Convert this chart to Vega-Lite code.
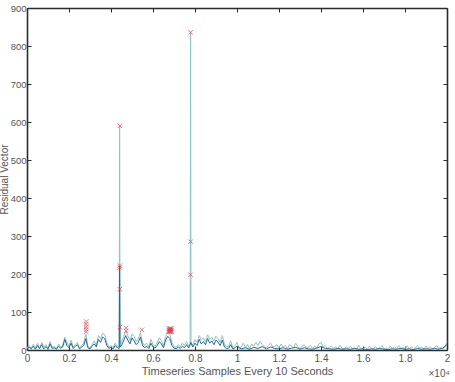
{
  "$schema": "https://vega.github.io/schema/vega-lite/v6.json",
  "width": 420,
  "height": 342,
  "autosize": "none",
  "padding": {"left": 27, "top": 8, "right": 8, "bottom": 32},
  "background": "white",
  "config": {
    "view": {"stroke": null},
    "font": "Liberation Sans",
    "axis": {"grid": false, "domainColor": "#2b2b2b", "domainWidth": 1.6, "tickColor": "#2b2b2b", "tickSize": -4, "labelColor": "#555555", "labelFontSize": 10, "labelFont": "Liberation Sans", "titleFont": "Liberation Sans", "titleFontWeight": "normal", "titleColor": "#555555", "titleFontSize": 11}
  },
  "title": {"text": "×10⁴", "orient": "bottom", "anchor": "end", "fontSize": 10, "fontWeight": "normal", "color": "#555555", "font": "Liberation Sans", "offset": -7},
  "datasets": {
    "light": [
      {"x":0,"y":5},{"x":100,"y":12},{"x":200,"y":4},{"x":300,"y":15},{"x":400,"y":6},{"x":500,"y":18},{"x":600,"y":3},{"x":700,"y":20},{"x":800,"y":8},{"x":900,"y":14},
      {"x":1000,"y":5},{"x":1100,"y":22},{"x":1200,"y":6},{"x":1300,"y":10},{"x":1400,"y":4},{"x":1500,"y":16},{"x":1600,"y":8},{"x":1700,"y":12},{"x":1800,"y":34},{"x":1900,"y":20},
      {"x":2000,"y":10},{"x":2100,"y":26},{"x":2200,"y":8},{"x":2300,"y":14},{"x":2400,"y":20},{"x":2500,"y":6},{"x":2600,"y":12},{"x":2700,"y":18},{"x":2800,"y":42},{"x":2900,"y":10},
      {"x":3000,"y":5},{"x":3100,"y":14},{"x":3200,"y":24},{"x":3300,"y":12},{"x":3400,"y":38},{"x":3500,"y":30},{"x":3600,"y":44},{"x":3700,"y":40},{"x":3800,"y":20},{"x":3900,"y":8},
      {"x":4000,"y":12},{"x":4100,"y":6},{"x":4200,"y":18},{"x":4300,"y":10},{"x":4390,"y":8},{"x":4410,"y":590},{"x":4430,"y":15},{"x":4500,"y":20},{"x":4600,"y":35},{"x":4700,"y":50},{"x":4800,"y":38},{"x":4900,"y":25},
      {"x":5000,"y":42},{"x":5100,"y":36},{"x":5200,"y":22},{"x":5300,"y":30},{"x":5400,"y":46},{"x":5500,"y":20},{"x":5600,"y":12},{"x":5700,"y":18},{"x":5800,"y":8},{"x":5900,"y":28},
      {"x":6000,"y":14},{"x":6100,"y":10},{"x":6200,"y":20},{"x":6300,"y":32},{"x":6400,"y":24},{"x":6500,"y":12},{"x":6600,"y":36},{"x":6700,"y":48},{"x":6800,"y":42},{"x":6900,"y":20},
      {"x":7000,"y":10},{"x":7100,"y":6},{"x":7200,"y":14},{"x":7300,"y":8},{"x":7400,"y":18},{"x":7500,"y":12},{"x":7600,"y":22},{"x":7700,"y":10},{"x":7770,"y":12},{"x":7790,"y":837},{"x":7810,"y":14},{"x":7900,"y":14},
      {"x":8000,"y":28},{"x":8100,"y":20},{"x":8200,"y":38},{"x":8300,"y":26},{"x":8400,"y":32},{"x":8500,"y":22},{"x":8600,"y":40},{"x":8700,"y":28},{"x":8800,"y":34},{"x":8900,"y":24},
      {"x":9000,"y":36},{"x":9100,"y":30},{"x":9200,"y":20},{"x":9300,"y":38},{"x":9400,"y":16},{"x":9500,"y":8},{"x":9600,"y":10},{"x":9700,"y":24},{"x":9800,"y":6},{"x":9900,"y":12},
      {"x":10000,"y":20},{"x":10100,"y":4},{"x":10200,"y":8},{"x":10300,"y":18},{"x":10400,"y":6},{"x":10500,"y":14},{"x":10600,"y":4},{"x":10700,"y":16},{"x":10800,"y":10},{"x":10900,"y":20},
      {"x":11000,"y":12},{"x":11100,"y":22},{"x":11200,"y":14},{"x":11300,"y":8},{"x":11400,"y":6},{"x":11500,"y":12},{"x":11600,"y":18},{"x":11700,"y":8},{"x":11800,"y":10},{"x":11900,"y":14},
      {"x":12000,"y":6},{"x":12100,"y":16},{"x":12200,"y":8},{"x":12300,"y":12},{"x":12400,"y":4},{"x":12500,"y":14},{"x":12600,"y":10},{"x":12700,"y":6},{"x":12800,"y":18},{"x":12900,"y":8},
      {"x":13000,"y":4},{"x":13100,"y":10},{"x":13200,"y":14},{"x":13300,"y":6},{"x":13400,"y":8},{"x":13500,"y":12},{"x":13600,"y":4},{"x":13700,"y":10},{"x":13800,"y":6},{"x":13900,"y":16},
      {"x":14000,"y":20},{"x":14100,"y":8},{"x":14200,"y":12},{"x":14300,"y":4},{"x":14400,"y":6},{"x":14500,"y":10},{"x":14600,"y":4},{"x":14700,"y":8},{"x":14800,"y":3},{"x":14900,"y":12},
      {"x":15000,"y":5},{"x":15100,"y":2},{"x":15200,"y":8},{"x":15300,"y":4},{"x":15400,"y":10},{"x":15500,"y":3},{"x":15600,"y":6},{"x":15700,"y":2},{"x":15800,"y":12},{"x":15900,"y":4},
      {"x":16000,"y":3},{"x":16100,"y":8},{"x":16200,"y":2},{"x":16300,"y":10},{"x":16400,"y":4},{"x":16500,"y":3},{"x":16600,"y":9},{"x":16700,"y":2},{"x":16800,"y":6},{"x":16900,"y":12},
      {"x":17000,"y":3},{"x":17100,"y":5},{"x":17200,"y":2},{"x":17300,"y":10},{"x":17400,"y":4},{"x":17500,"y":8},{"x":17600,"y":3},{"x":17700,"y":12},{"x":17800,"y":4},{"x":17900,"y":6},
      {"x":18000,"y":3},{"x":18100,"y":11},{"x":18200,"y":4},{"x":18300,"y":8},{"x":18400,"y":3},{"x":18500,"y":6},{"x":18600,"y":12},{"x":18700,"y":4},{"x":18800,"y":7},{"x":18900,"y":3},
      {"x":19000,"y":10},{"x":19100,"y":4},{"x":19200,"y":9},{"x":19300,"y":3},{"x":19400,"y":6},{"x":19500,"y":12},{"x":19600,"y":4},{"x":19700,"y":7},{"x":19800,"y":3},{"x":19900,"y":8},{"x":20000,"y":22}
    ],
    "dark": [
      {"x":0,"y":2},{"x":100,"y":8},{"x":200,"y":3},{"x":300,"y":10},{"x":400,"y":2},{"x":500,"y":12},{"x":600,"y":4},{"x":700,"y":14},{"x":800,"y":3},{"x":900,"y":9},
      {"x":1000,"y":2},{"x":1100,"y":16},{"x":1200,"y":4},{"x":1300,"y":6},{"x":1400,"y":2},{"x":1500,"y":10},{"x":1600,"y":5},{"x":1700,"y":8},{"x":1800,"y":28},{"x":1900,"y":12},
      {"x":2000,"y":6},{"x":2100,"y":18},{"x":2200,"y":4},{"x":2300,"y":10},{"x":2400,"y":14},{"x":2500,"y":3},{"x":2600,"y":8},{"x":2700,"y":12},{"x":2800,"y":30},{"x":2900,"y":6},
      {"x":3000,"y":3},{"x":3100,"y":10},{"x":3200,"y":16},{"x":3300,"y":8},{"x":3400,"y":28},{"x":3500,"y":20},{"x":3600,"y":34},{"x":3700,"y":30},{"x":3800,"y":12},{"x":3900,"y":4},
      {"x":4000,"y":8},{"x":4100,"y":3},{"x":4200,"y":12},{"x":4300,"y":6},{"x":4390,"y":4},{"x":4410,"y":220},{"x":4430,"y":8},{"x":4500,"y":12},{"x":4600,"y":24},{"x":4700,"y":38},{"x":4800,"y":26},{"x":4900,"y":16},
      {"x":5000,"y":32},{"x":5100,"y":24},{"x":5200,"y":14},{"x":5300,"y":20},{"x":5400,"y":34},{"x":5500,"y":12},{"x":5600,"y":6},{"x":5700,"y":10},{"x":5800,"y":4},{"x":5900,"y":18},
      {"x":6000,"y":8},{"x":6100,"y":5},{"x":6200,"y":12},{"x":6300,"y":22},{"x":6400,"y":16},{"x":6500,"y":6},{"x":6600,"y":26},{"x":6700,"y":36},{"x":6800,"y":30},{"x":6900,"y":12},
      {"x":7000,"y":5},{"x":7100,"y":3},{"x":7200,"y":8},{"x":7300,"y":4},{"x":7400,"y":10},{"x":7500,"y":6},{"x":7600,"y":14},{"x":7700,"y":5},{"x":7800,"y":20},{"x":7900,"y":8},
      {"x":8000,"y":18},{"x":8100,"y":12},{"x":8200,"y":28},{"x":8300,"y":16},{"x":8400,"y":22},{"x":8500,"y":14},{"x":8600,"y":30},{"x":8700,"y":18},{"x":8800,"y":24},{"x":8900,"y":14},
      {"x":9000,"y":26},{"x":9100,"y":20},{"x":9200,"y":12},{"x":9300,"y":26},{"x":9400,"y":8},{"x":9500,"y":4},{"x":9600,"y":5},{"x":9700,"y":14},{"x":9800,"y":3},{"x":9900,"y":6},
      {"x":10000,"y":10},{"x":10200,"y":3},{"x":10400,"y":6},{"x":10600,"y":2},{"x":10800,"y":7},{"x":11000,"y":4},{"x":11200,"y":9},{"x":11400,"y":3},{"x":11600,"y":8},{"x":11800,"y":4},
      {"x":12000,"y":3},{"x":12200,"y":6},{"x":12400,"y":2},{"x":12600,"y":5},{"x":12800,"y":7},{"x":13000,"y":2},{"x":13200,"y":6},{"x":13400,"y":3},{"x":13600,"y":2},{"x":13800,"y":5},
      {"x":14000,"y":9},{"x":14200,"y":4},{"x":14400,"y":3},{"x":14600,"y":2},{"x":14800,"y":4},{"x":15000,"y":2},{"x":15200,"y":3},{"x":15400,"y":2},{"x":15600,"y":4},{"x":15800,"y":2},
      {"x":16000,"y":3},{"x":16200,"y":1},{"x":16400,"y":3},{"x":16600,"y":2},{"x":16800,"y":4},{"x":17000,"y":2},{"x":17200,"y":1},{"x":17400,"y":3},{"x":17600,"y":2},{"x":17800,"y":4},
      {"x":18000,"y":2},{"x":18200,"y":3},{"x":18400,"y":1},{"x":18600,"y":4},{"x":18800,"y":2},{"x":19000,"y":3},{"x":19200,"y":2},{"x":19400,"y":4},{"x":19600,"y":2},{"x":19800,"y":5},{"x":20000,"y":14}
    ],
    "marks": [
      {"x":2820,"y":75},{"x":2820,"y":68},{"x":2820,"y":61},{"x":2820,"y":54},{"x":2820,"y":48},
      {"x":4420,"y":590},{"x":4420,"y":222},{"x":4420,"y":217},{"x":4420,"y":160},{"x":4420,"y":60},
      {"x":4720,"y":58},{"x":4720,"y":50},{"x":5470,"y":53},
      {"x":6760,"y":48},{"x":6760,"y":52},{"x":6760,"y":56},{"x":6800,"y":48},{"x":6800,"y":52},{"x":6800,"y":56},
      {"x":6840,"y":48},{"x":6840,"y":52},{"x":6840,"y":56},{"x":6880,"y":48},{"x":6880,"y":52},{"x":6880,"y":56},
      {"x":7790,"y":836},{"x":7790,"y":285},{"x":7790,"y":198}
    ]
  },
  "resolve": {"axis": {"x": "independent", "y": "independent"}},
  "layer": [
    {
      "data": {"name": "light"},
      "mark": {"type": "line", "color": "#8cc4c4", "strokeWidth": 1},
      "encoding": {
        "x": {"field": "x", "type": "quantitative", "scale": {"domain": [0, 20000], "nice": false},
              "axis": {"values": [0,2000,4000,6000,8000,10000,12000,14000,16000,18000,20000], "labelExpr": "toString(datum.value/10000)", "title": "Timeseries Samples Every 10 Seconds", "labelPadding": 7, "titlePadding": 2, "labelFlush": false}},
        "y": {"field": "y", "type": "quantitative", "scale": {"domain": [0, 900], "nice": false},
              "axis": {"values": [0,100,200,300,400,500,600,700,800,900], "title": "Residual Vector", "titleFontSize": 10, "labelFontSize": 9.5, "labelPadding": 5, "titleX": -17.5, "titleY": 171}}
      }
    },
    {
      "data": {"name": "dark"},
      "mark": {"type": "line", "color": "#24698f", "strokeWidth": 1},
      "encoding": {
        "x": {"field": "x", "type": "quantitative", "scale": {"domain": [0, 20000], "nice": false}, "axis": {"orient": "top", "values": [0,2000,4000,6000,8000,10000,12000,14000,16000,18000,20000], "labels": false, "title": null}},
        "y": {"field": "y", "type": "quantitative", "scale": {"domain": [0, 900], "nice": false}, "axis": {"orient": "right", "values": [0,100,200,300,400,500,600,700,800,900], "labels": false, "title": null}}
      }
    },
    {
      "data": {"name": "marks"},
      "mark": {"type": "point", "shape": "M-1,-1L1,1M-1,1L1,-1", "filled": false, "color": "#e0404a", "size": 20, "strokeWidth": 1},
      "encoding": {
        "x": {"field": "x", "type": "quantitative", "axis": null},
        "y": {"field": "y", "type": "quantitative", "axis": null}
      }
    }
  ]
}
